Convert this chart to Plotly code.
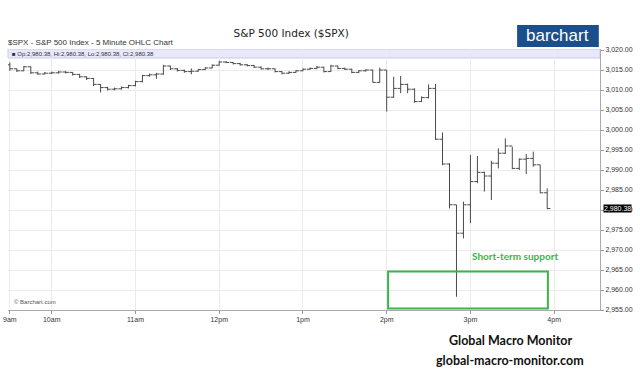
import pandas as pd
import plotly.graph_objects as go

session_day = "2019-10-01"
bar_minutes = 5
n_bars = 78
times = pd.date_range(f"{session_day} 09:30", periods=n_bars, freq=f"{bar_minutes}min")

opens = [3016.3, 3015.3, 3014.8, 3015.8, 3014.3, 3014.0, 3014.2, 3014.3, 3014.5, 3014.4,
         3013.9, 3013.3, 3012.9, 3011.4, 3010.6, 3010.2, 3010.3, 3010.6, 3011.1, 3012.1,
         3013.6, 3013.8, 3014.0, 3016.0, 3015.3, 3014.9, 3014.6, 3014.7, 3015.1, 3015.5,
         3016.2, 3017.0, 3016.9, 3016.6, 3016.3, 3016.1, 3015.7, 3015.3, 3015.3, 3014.6,
         3014.2, 3014.4, 3014.8, 3015.2, 3015.4, 3015.7, 3014.6, 3016.0, 3015.4, 3015.2,
         3014.4, 3014.8, 3015.0, 3011.9, 3015.0, 3008.2, 3010.4, 3011.4, 3010.2, 3007.1,
         3008.1, 3010.4, 2997.7, 2991.5, 2981.3, 2974.2, 2981.3, 2987.1, 2989.4, 2988.5,
         2991.7, 2994.2, 2996.0, 2990.4, 2992.7, 2992.9, 2991.3, 2984.3]
highs = [3016.9, 3015.4, 3016.0, 3015.9, 3014.6, 3014.5, 3014.6, 3014.8, 3014.8, 3014.5,
         3014.0, 3013.4, 3013.0, 3011.5, 3010.8, 3010.6, 3010.9, 3011.3, 3012.3, 3013.8,
         3014.1, 3014.3, 3016.3, 3016.1, 3015.5, 3015.1, 3015.4, 3015.3, 3015.7, 3016.4,
         3017.3, 3017.2, 3017.0, 3016.8, 3016.5, 3016.3, 3015.9, 3015.6, 3015.4, 3014.7,
         3014.7, 3015.0, 3015.4, 3015.6, 3016.0, 3015.8, 3016.3, 3016.1, 3015.6, 3015.3,
         3015.0, 3015.2, 3015.1, 3015.6, 3015.0, 3013.3, 3013.5, 3011.6, 3010.4, 3008.4,
         3011.4, 3011.5, 2999.4, 2991.7, 2981.3, 2982.1, 2993.8, 2993.5, 2989.6, 2992.3,
         2995.4, 2997.9, 2995.8, 2992.9, 2994.0, 2994.6, 2991.3, 2985.4]
lows = [3014.8, 3014.5, 3014.7, 3014.0, 3013.8, 3013.9, 3014.0, 3014.1, 3014.1, 3013.6,
        3013.0, 3012.5, 3011.0, 3009.4, 3009.9, 3009.9, 3010.1, 3010.4, 3010.9, 3011.9,
        3013.3, 3012.8, 3013.8, 3015.0, 3014.6, 3014.3, 3013.9, 3014.6, 3015.0, 3015.4,
        3016.1, 3016.7, 3016.4, 3016.1, 3015.9, 3015.5, 3015.1, 3015.0, 3014.4, 3013.9,
        3014.0, 3014.3, 3014.7, 3015.0, 3015.2, 3014.4, 3014.5, 3015.2, 3015.0, 3014.2,
        3014.2, 3014.6, 3011.9, 3011.8, 3004.6, 3008.0, 3009.2, 3009.2, 3006.8, 3007.0,
        3007.9, 2997.5, 2991.2, 2980.4, 2958.3, 2972.9, 2976.7, 2986.7, 2984.6, 2982.5,
        2990.4, 2994.0, 2990.2, 2990.0, 2989.0, 2990.8, 2984.2, 2980.2]
closes = [3015.3, 3014.8, 3015.8, 3014.3, 3014.0, 3014.2, 3014.3, 3014.5, 3014.4, 3013.9,
          3013.3, 3012.9, 3011.4, 3010.6, 3010.2, 3010.3, 3010.6, 3011.1, 3012.1, 3013.6,
          3013.8, 3014.0, 3016.0, 3015.3, 3014.9, 3014.6, 3014.7, 3015.1, 3015.5, 3016.2,
          3017.0, 3016.9, 3016.6, 3016.3, 3016.1, 3015.7, 3015.3, 3015.3, 3014.6, 3014.2,
          3014.4, 3014.8, 3015.2, 3015.4, 3015.7, 3014.6, 3016.0, 3015.4, 3015.2, 3014.4,
          3014.8, 3015.0, 3011.9, 3015.0, 3008.2, 3010.4, 3011.4, 3010.2, 3007.1, 3008.1,
          3010.4, 2997.7, 2991.5, 2981.3, 2974.2, 2981.3, 2987.1, 2989.4, 2988.5, 2991.7,
          2994.2, 2996.0, 2990.4, 2992.7, 2992.9, 2991.3, 2984.3, 2980.38]

last_price = 2980.38
tick_times = ["09:30", "10:00", "11:00", "12:00", "13:00", "14:00", "15:00", "16:00"]
tick_labels = ["9am", "10am", "11am", "12pm", "1pm", "2pm", "3pm", "4pm"]
support_box = {"start": "14:01", "end": "15:55:30", "low": 2955.4, "high": 2964.6}
y_min, y_max = 2955, 3020.25

fig = go.Figure(go.Ohlc(
    x=times, open=opens, high=highs, low=lows, close=closes,
    increasing=dict(line=dict(color="#4a4a4a", width=1)),
    decreasing=dict(line=dict(color="#4a4a4a", width=1)),
    tickwidth=0.45, showlegend=False, hoverinfo="skip",
))

grid = "#ebebeb"
fig.update_layout(
    width=640, height=377,
    margin=dict(l=8, r=40, t=49, b=67),
    paper_bgcolor="white", plot_bgcolor="white",
    font=dict(family="Liberation Sans, Arial, sans-serif", color="#333333"),
    showlegend=False,
    title=dict(text="S&P 500 Index ($SPX)", x=0.455, y=0.912, xref="container", yref="container",
               xanchor="center", yanchor="middle",
               font=dict(family="DejaVu Sans, sans-serif", size=10.5, color="#222222")),
    xaxis=dict(
        type="date", automargin=False,
        range=[f"{session_day} 09:28:40", f"{session_day} 16:32:50"],
        tickvals=[f"{session_day} {t}" for t in tick_times], ticktext=tick_labels,
        showgrid=True, gridcolor=grid, gridwidth=1,
        ticks="outside", ticklen=3, tickcolor="#999999",
        showline=True, linecolor="#aaaaaa", linewidth=1,
        tickfont=dict(size=7, color="#333333"),
        rangeslider=dict(visible=False), zeroline=False,
    ),
    yaxis=dict(
        side="right", automargin=False, range=[y_min, y_max], tick0=2955, dtick=5,
        tickformat=",.2f", showgrid=True, gridcolor=grid, gridwidth=1,
        ticks="outside", ticklen=3, tickcolor="#999999",
        showline=True, linecolor="#aaaaaa", linewidth=1,
        tickfont=dict(size=7, color="#333333"), zeroline=False,
    ),
)

shapes = [
    dict(type="rect", xref="paper", yref="y", x0=0, x1=1, y0=3018.0, y1=y_max,
         fillcolor="#e8e8fb", line=dict(color="#c9c9ef", width=1), layer="between"),
    dict(type="rect", xref="paper", yref="paper", x0=0.860, x1=0.998, y0=1.008, y1=1.092,
         fillcolor="#1a4f8b", line=dict(width=0)),
    dict(type="rect", xref="x", yref="y",
         x0=f"{session_day} {support_box['start']}", x1=f"{session_day} {support_box['end']}",
         y0=support_box["low"], y1=support_box["high"],
         line=dict(color="#3cb44b", width=2), fillcolor="rgba(0,0,0,0)", layer="above"),
]
fig.update_layout(shapes=shapes)

annotations = [
    dict(text="$SPX - S&P 500 Index - 5 Minute OHLC Chart", xref="paper", yref="paper",
         x=-0.004, y=1.025, xanchor="left", yanchor="middle", showarrow=False,
         font=dict(size=8, color="#333333")),
    dict(text="■ Op:2,980.38, Hi:2,980.38, Lo:2,980.38, Cl:2,980.38", xref="paper", yref="y",
         x=0.004, y=3019.1, xanchor="left", yanchor="middle", showarrow=False,
         font=dict(size=6, color="#333333")),
    dict(text="barchart", xref="paper", yref="paper", x=0.929, y=1.05,
         xanchor="center", yanchor="middle", showarrow=False,
         font=dict(family="Liberation Sans, Arial, sans-serif", size=17, color="white")),
    dict(text="© Barchart.com", xref="paper", yref="y", x=0.007, y=2957,
         xanchor="left", yanchor="middle", showarrow=False,
         font=dict(size=6, color="#555555")),
    dict(text=f"{last_price:,.2f}", xref="paper", yref="y", x=1.0, xshift=3, y=last_price,
         xanchor="left", yanchor="middle", showarrow=False, bgcolor="black",
         borderpad=0, font=dict(size=7, color="white")),
    dict(text="<b>Short-term support</b>", xref="x", yref="y",
         x=f"{session_day} 15:32", y=2968.6, xanchor="center", yanchor="middle", showarrow=False,
         font=dict(family="Lato, sans-serif", size=10, color="#3cb44b")),
    dict(text="<b>Global Macro Monitor</b>", xref="paper", yref="paper", x=0.848, y=-0.115,
         xanchor="center", yanchor="middle", showarrow=False,
         font=dict(family="Lato, sans-serif", size=12.5, color="#111111")),
    dict(text="<b>global-macro-monitor.com</b>", xref="paper", yref="paper", x=0.848, y=-0.195,
         xanchor="center", yanchor="middle", showarrow=False,
         font=dict(family="Lato, sans-serif", size=12.5, color="#111111")),
]
fig.update_layout(annotations=annotations)

fig.write_html("out.html", config={"displayModeBar": False},
               post_script="document.body.style.margin='0';")
